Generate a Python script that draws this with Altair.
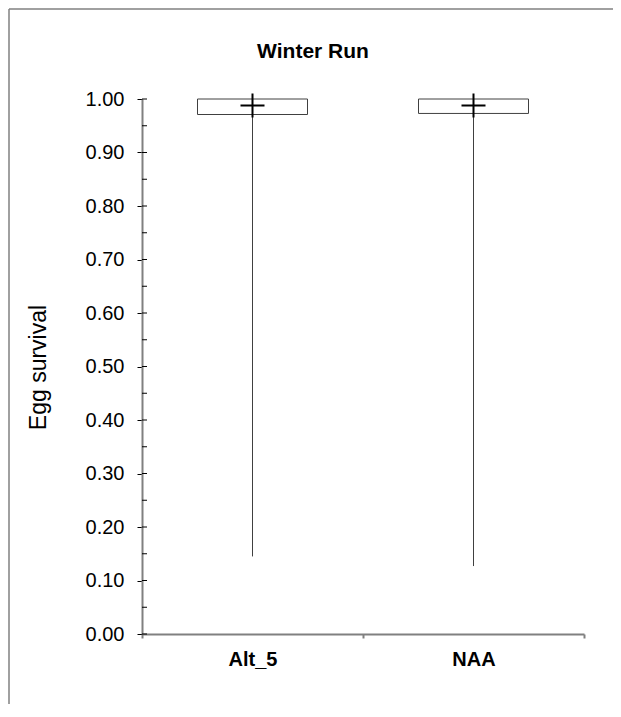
import altair as alt
import pandas as pd

categories = ["Alt_5", "NAA"]
q1_vals = [0.971, 0.973]
q3_vals = [1.0, 1.0]
min_vals = [0.145, 0.127]
mean_vals = [0.988, 0.988]
y_ticks = [0.0, 0.05, 0.1, 0.15, 0.2, 0.25, 0.3, 0.35, 0.4, 0.45, 0.5,
           0.55, 0.6, 0.65, 0.7, 0.75, 0.8, 0.85, 0.9, 0.95, 1.0]
title_text = ["Winter Run"]

df = pd.DataFrame({"cat": categories, "q1": q1_vals, "q3": q3_vals,
                   "lo": min_vals, "mean": mean_vals})
ticks_df = pd.DataFrame({"t": y_ticks})

FONT = "Liberation Sans"
W, H = 442, 535

xenc = alt.X("cat:N", sort=categories, title=None,
             scale=alt.Scale(paddingInner=0, paddingOuter=0),
             axis=alt.Axis(labelFont=FONT, labelFontSize=20, labelFontWeight="bold",
                           labelColor="black", labelAngle=0, labelPadding=11,
                           domainColor="#808080", domainWidth=2, tickColor="#808080",
                           tickWidth=2, tickSize=4, tickBand="extent"))
yscale = alt.Scale(domain=[0, 1], nice=False, zero=True)
yenc = alt.Y("q1:Q", scale=yscale, title="Egg survival",
             axis=alt.Axis(values=y_ticks, grid=False,
                           labelExpr="round(datum.value*20) % 2 == 0 ? format(datum.value, '.2f') : ''",
                           labelFont=FONT, labelFontSize=20, labelColor="black",
                           labelPadding=13, tickSize=5, tickColor="black", tickWidth=1,
                           domainColor="#808080", domainWidth=2,
                           titleFont=FONT, titleFontSize=23, titleFontWeight="normal",
                           titleColor="black", titleAngle=-90, titleX=-104, titleY=268,
                           titleAlign="center", titleBaseline="middle"))

base = alt.Chart(df)

whisker = base.mark_rule(color="#404040", strokeWidth=1).encode(
    x=xenc, y=alt.Y("lo:Q", scale=yscale), y2="q1:Q")

box = base.mark_bar(fill="white", stroke="#404040", strokeWidth=1, size=110).encode(
    x=xenc, y=yenc, y2="q3:Q")

cross = base.mark_point(shape="M-1,0L1,0M0,-1L0,1", filled=False, stroke="black",
                        strokeWidth=2, size=576, opacity=1).encode(
    x=xenc, y=alt.Y("mean:Q", scale=yscale))

inner_ticks = alt.Chart(ticks_df).mark_rule(color="black", strokeWidth=1).encode(
    y=alt.Y("t:Q", scale=yscale), x=alt.value(0), x2=alt.value(5))

one = pd.DataFrame({"a": [0]})
frame_top = alt.Chart(one).mark_rule(color="#808080", strokeWidth=1.5).encode(
    x=alt.value(-133), x2=alt.value(471), y=alt.value(-90))
frame_left = alt.Chart(one).mark_rule(color="#808080", strokeWidth=1.5).encode(
    x=alt.value(-133), y=alt.value(-90), y2=alt.value(700))

title = alt.Chart(pd.DataFrame({"t": title_text})).mark_text(
    font=FONT, fontSize=21, fontWeight="bold", color="black",
    align="center", baseline="alphabetic").encode(
    text="t:N", x=alt.value(W / 2 - 50), y=alt.value(-41))

chart = alt.layer(frame_top, frame_left, whisker, box, inner_ticks, cross, title).properties(
    width=W, height=H,
    autosize=alt.AutoSizeParams(type="none"),
    padding={"left": 134, "top": 91, "right": 29, "bottom": 70},
).configure(background="white", view=alt.ViewConfig(stroke=None))

chart.save("out.html", embed_options={"renderer": "svg", "actions": False})
